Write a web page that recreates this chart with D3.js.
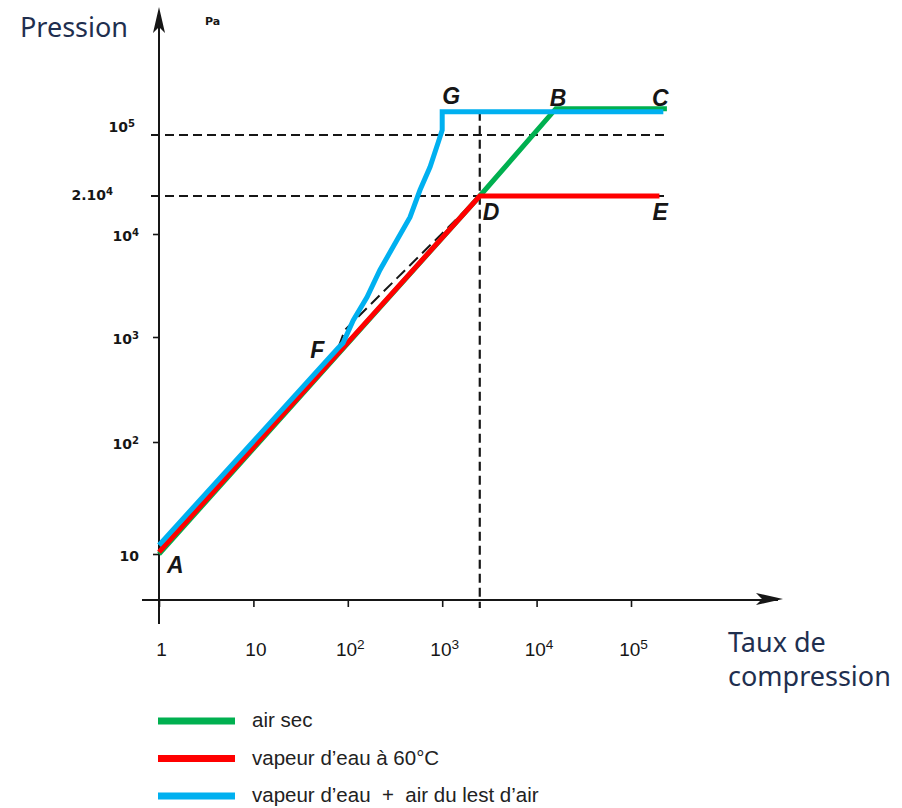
<!DOCTYPE html>
<html>
<head>
<meta charset="utf-8">
<script src="https://cdn.jsdelivr.net/npm/d3@7"></script>
<style>
  body { margin: 0; background: #fff; }
  svg { display: block; }
</style>
</head>
<body>
<svg id="chart" width="902" height="808"></svg>
<script>
// tick values and labels (base, exponent)
const xTicks = [1, 10, 100, 1000, 1e4, 1e5];
const xTickLabels = [['1', ''], ['10', ''], ['10', '2'], ['10', '3'], ['10', '4'], ['10', '5']];
const yTicks = [10, 100, 1000, 1e4, 2e4, 1e5];
const yTickLabels = [['10', ''], ['10', '2'], ['10', '3'], ['10', '4'], ['2.10', '4'], ['10', '5']];

// series: [taux de compression, pression Pa]
const airSec = [[1, 10], [2500, 2e4], [1.6e4, 2e5], [2.4e5, 2e5]];
const vapeur = [[1, 10.4], [2500, 2e4], [2e5, 2e4]];
const lestAir = [[1, 12], [79, 785], [89, 877], [114, 1450], [160, 2440], [219, 4470], [332, 8750],
  [456, 13600], [582, 23400], [743, 43000], [903, 80900], [1000, 114000], [1000, 1.85e5], [2.2e5, 1.85e5]];
const ideal = [[1, 11.5], [79, 785], [93, 1170], [2500, 2e4]];

// dashed guides
const guideLevels = [2e4, 1e5];
const guideEnd = 2.5e5;
const guideX = 2500;
const guideTop = 1.85e5;

const pointNames = ['A', 'B', 'C', 'D', 'E', 'F', 'G'];
const pointX = [1, 1.6e4, 2.4e5, 2500, 2e5, 79, 1000];
const pointY = [10, 2e5, 2e5, 2e4, 2e4, 785, 1.85e5];

const legendLabels = ['air sec', 'vapeur d\u2019eau à 60°C', 'vapeur d\u2019eau  +  air du lest d\u2019air'];

const colors = {air: '#00b050', vap: '#ff0000', lest: '#00b0f0'};
const ink = '#161616';
const axisY = 600;

const svg = d3.select('#chart');
svg.append('rect').attr('width', 902).attr('height', 808).attr('fill', '#fff');

const x = d3.scaleLog().domain([1, 1e5]).range([159, 631]);
// the scanned figure is not evenly spaced, so a piecewise log scale
const y = d3.scaleLog().domain(yTicks).range([554, 442, 337, 234, 196, 135]);

function supText(sel, base, exp, size) {
  sel.append('tspan').text(base);
  if (exp) {
    sel.append('tspan').attr('font-size', size * 0.72).attr('dy', -size * 0.38).text(exp);
  }
}

// ---- axes
svg.append('path')
  .attr('d', `M${x(1)},${axisY + 24}V12`)
  .attr('stroke', ink).attr('stroke-width', 2).attr('fill', 'none');
svg.append('path')
  .attr('d', `M${x(1)},7L${x(1) - 6},33L${x(1)},27L${x(1) + 6},33Z`)
  .attr('fill', ink);

svg.append('path')
  .attr('d', `M${x(1) - 17},${axisY}H778`)
  .attr('stroke', ink).attr('stroke-width', 2).attr('fill', 'none');
svg.append('path')
  .attr('d', `M783,${axisY - 1}L756,${axisY - 7}L762,${axisY - 1}L756,${axisY + 5}Z`)
  .attr('fill', ink);

const gx = svg.append('g')
  .attr('transform', `translate(0,${axisY})`)
  .call(d3.axisBottom(x).tickValues(xTicks).tickSize(7).tickFormat(''));
gx.select('.domain').remove();
gx.selectAll('.tick line').attr('stroke', ink).attr('stroke-width', 1.6);
gx.selectAll('.tick text').remove();
gx.selectAll('.tick').append('text')
  .attr('y', 56)
  .attr('x', 2)
  .attr('text-anchor', 'middle')
  .attr('fill', ink)
  .style('font-family', 'Liberation Sans, Arial, sans-serif')
  .style('font-size', '19px')
  .each(function (d, i) {
    supText(d3.select(this), xTickLabels[i][0], xTickLabels[i][1], 19);
  });

const gy = svg.append('g')
  .attr('transform', `translate(${x(1)},0)`)
  .call(d3.axisLeft(y).tickValues(yTicks.slice(0, 4)).tickSize(6).tickFormat(''));
gy.select('.domain').remove();
gy.selectAll('.tick line').attr('stroke', ink).attr('stroke-width', 1.6);
gy.selectAll('.tick text').remove();

// label nudges for the scanned layout: 2.10^4 sits further left, 10^5 sits above its line
svg.append('g')
  .selectAll('text')
  .data(yTicks)
  .join('text')
  .attr('x', (d, i) => 139 + (i === 4 ? -26 : 0) + (i === 5 ? -4 : 0))
  .attr('y', (d, i) => y(d) + (i === 5 ? -3 : i === 4 ? 4 : 7))
  .attr('text-anchor', 'end')
  .attr('fill', ink)
  .style('font-family', 'DejaVu Sans, sans-serif')
  .style('font-weight', 'bold')
  .style('font-size', '14px')
  .each(function (d, i) {
    supText(d3.select(this), yTickLabels[i][0], yTickLabels[i][1], 14);
  });

svg.append('text')
  .attr('x', 205).attr('y', 25)
  .attr('fill', ink)
  .style('font-family', 'DejaVu Sans, sans-serif')
  .style('font-weight', 'bold')
  .style('font-size', '11px')
  .text('Pa');

// ---- dashed guides
const dash = '9,5';
svg.append('g')
  .selectAll('line')
  .data(guideLevels)
  .join('line')
  .attr('x1', x(1) - 8).attr('x2', x(guideEnd))
  .attr('y1', d => y(d)).attr('y2', d => y(d))
  .attr('stroke', ink).attr('stroke-width', 2).attr('stroke-dasharray', dash);

svg.append('line')
  .attr('x1', x(guideX)).attr('x2', x(guideX))
  .attr('y1', y(guideTop)).attr('y2', axisY + 8)
  .attr('stroke', ink).attr('stroke-width', 2.2).attr('stroke-dasharray', dash);

const line = d3.line().x(d => x(d[0])).y(d => y(d[1]));

svg.append('path')
  .attr('d', line(ideal))
  .attr('fill', 'none').attr('stroke', ink).attr('stroke-width', 2).attr('stroke-dasharray', '12,6');

// ---- series
[[airSec, colors.air], [vapeur, colors.vap], [lestAir, colors.lest]].forEach(([data, c]) => {
  svg.append('path')
    .attr('d', line(data))
    .attr('fill', 'none')
    .attr('stroke', c)
    .attr('stroke-width', 5)
    .attr('stroke-linejoin', 'miter');
});

// ---- point letters
const letterOffset = {A: [8, 19], B: [-6, -3], C: [-15, -3], D: [3, 24], E: [-7, 24], F: [-28, 10], G: [0, -8]};
svg.append('g')
  .selectAll('text')
  .data(pointNames)
  .join('text')
  .attr('x', (d, i) => x(pointX[i]) + letterOffset[d][0])
  .attr('y', (d, i) => y(pointY[i]) + letterOffset[d][1])
  .attr('fill', ink)
  .style('font-family', 'Liberation Sans, Arial, sans-serif')
  .style('font-weight', 'bold')
  .style('font-style', 'italic')
  .style('font-size', '23px')
  .text(d => d);

// ---- axis titles
const titleFont = 'Noto Sans, Open Sans, sans-serif';
svg.append('text')
  .attr('x', 20).attr('y', 37)
  .attr('fill', '#1f2f4f')
  .style('font-family', titleFont)
  .style('font-size', '27px')
  .text('Pression');
const tx = svg.append('text')
  .attr('fill', '#1f2f4f')
  .style('font-family', titleFont)
  .style('font-size', '27px');
tx.append('tspan').attr('x', 728).attr('y', 652).text('Taux de');
tx.append('tspan').attr('x', 728).attr('y', 686).text('compression');

// ---- legend
const legendColors = [colors.air, colors.vap, colors.lest];
const lg = svg.append('g')
  .selectAll('g')
  .data(legendLabels)
  .join('g')
  .attr('transform', (d, i) => `translate(158,${721 + i * 37.5})`);
lg.append('line')
  .attr('x1', 0).attr('x2', 77)
  .attr('stroke', (d, i) => legendColors[i])
  .attr('stroke-width', 7);
lg.append('text')
  .attr('x', 94).attr('y', 6)
  .attr('fill', '#222')
  .attr('xml:space', 'preserve')
  .style('white-space', 'pre')
  .style('font-family', 'Liberation Sans, Arial, sans-serif')
  .style('font-size', '20.5px')
  .text(d => d);
</script>
</body>
</html>
